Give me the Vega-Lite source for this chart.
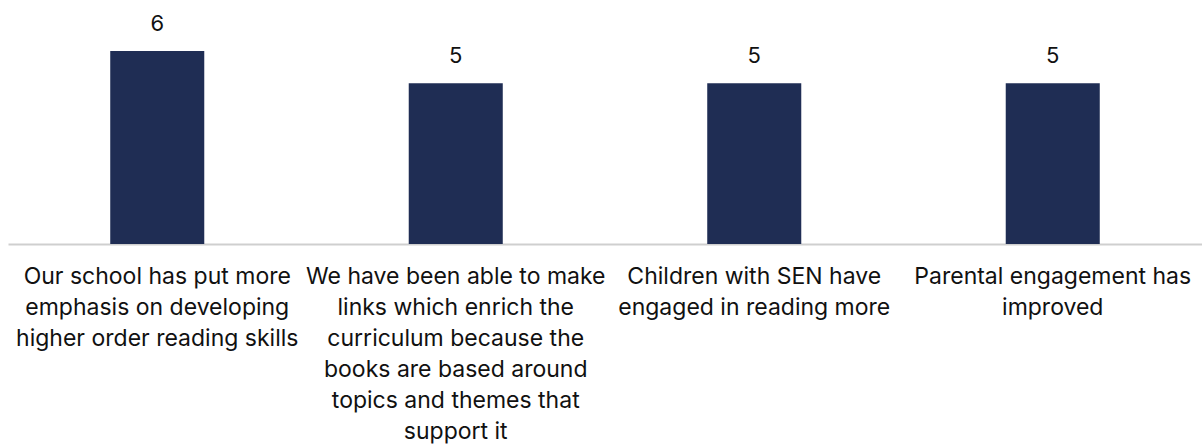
{
  "$schema": "https://vega.github.io/schema/vega-lite/v6.json",
  "width": 1194,
  "height": 193,
  "autosize": {"type": "none"},
  "padding": {"left": 8, "top": 51, "right": 0, "bottom": 201},
  "background": "white",
  "config": {"view": {"stroke": null}, "font": "Inter"},
  "data": {
    "values": [
      {"label": "Our school has put more|emphasis on developing|higher order reading skills", "order": 1, "value": 6},
      {"label": "We have been able to make|links which enrich the|curriculum because the|books are based around|topics and themes that|support it", "order": 2, "value": 5},
      {"label": "Children with SEN have|engaged in reading more", "order": 3, "value": 5},
      {"label": "Parental engagement has|improved", "order": 4, "value": 5}
    ]
  },
  "encoding": {
    "x": {
      "field": "label",
      "type": "nominal",
      "sort": {"field": "order"},
      "scale": {"paddingInner": 0.685, "paddingOuter": 0.3425},
      "axis": {
        "title": null,
        "labelAngle": 0,
        "labelExpr": "split(datum.label, '|')",
        "labelFontSize": 23,
        "labelLineHeight": 31,
        "labelColor": "#111111",
        "labelPadding": 21,
        "labelLimit": 400,
        "ticks": false,
        "domainColor": "#cfcfcf",
        "domainWidth": 2,
        "labelFont": "Inter"
      }
    },
    "y": {
      "field": "value",
      "type": "quantitative",
      "scale": {"domain": [0, 6]},
      "axis": null
    }
  },
  "layer": [
    {"mark": {"type": "bar", "color": "#1F2D54"}},
    {
      "mark": {"type": "text", "dy": -15, "fontSize": 22, "color": "#111111", "baseline": "bottom", "font": "Inter"},
      "encoding": {"text": {"field": "value", "type": "quantitative"}}
    }
  ]
}
